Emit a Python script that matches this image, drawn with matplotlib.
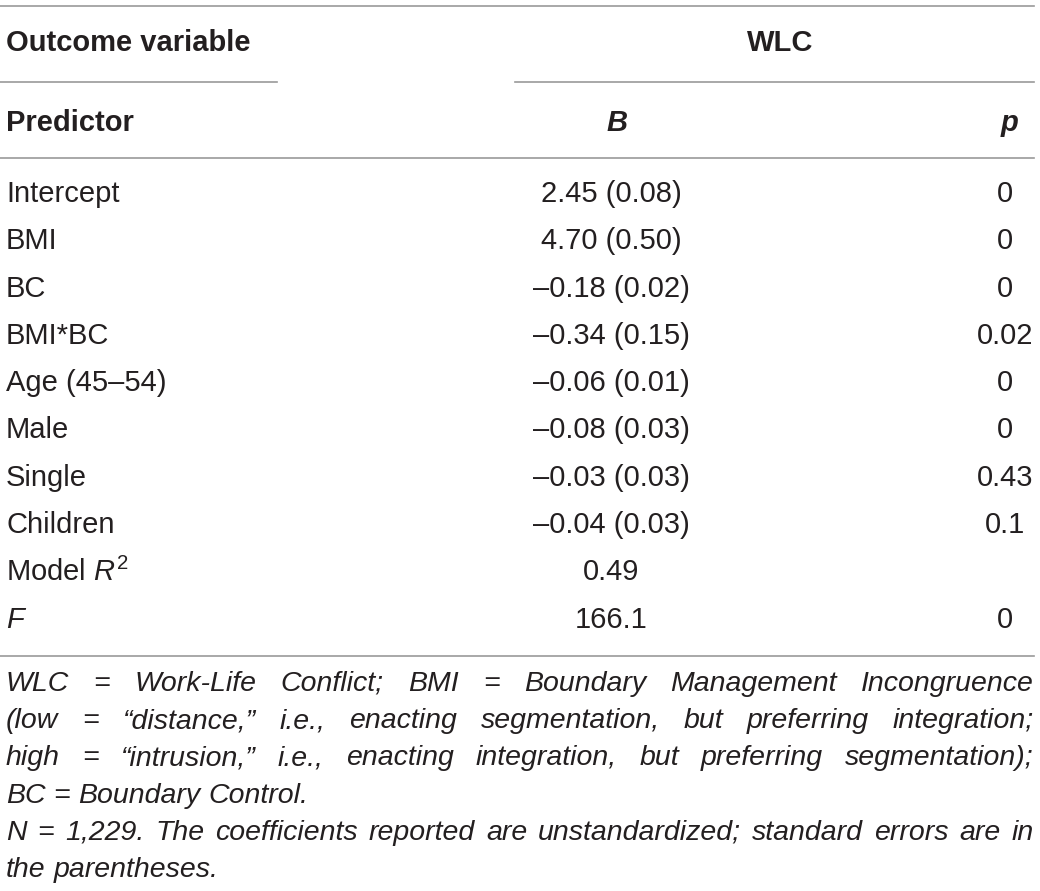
import matplotlib
matplotlib.use("Agg")
import matplotlib.pyplot as plt

plt.rcParams['font.family'] = ['Liberation Sans', 'DejaVu Sans']
plt.rcParams['mathtext.fontset'] = 'custom'
plt.rcParams['mathtext.rm'] = 'Liberation Sans'
plt.rcParams['mathtext.it'] = 'Liberation Sans:italic'
plt.rcParams['mathtext.bf'] = 'Liberation Sans:bold'

# ---- data ----
outcome_label = "Outcome variable"
outcome_name = "WLC"
col_predictor = "Predictor"
col_b = "B"
col_p = "p"
predictors = ["Intercept", "BMI", "BC", "BMI*BC", "Age (45\u201354)", "Male",
              "Single", "Children", "Model $\\mathit{R}^{2}$", "F"]
predictor_italic = [False, False, False, False, False, False, False, False, False, True]
b_values = ["2.45", "4.70", "\u20130.18", "\u20130.34", "\u20130.06", "\u20130.08",
            "\u20130.03", "\u20130.04", "0.49", "166.1"]
b_se = ["0.08", "0.50", "0.02", "0.15", "0.01", "0.03", "0.03", "0.03", "", ""]
p_values = ["0", "0", "0", "0.02", "0", "0", "0.43", "0.1", "", "0"]

# footnote lines as broken in the original (text, justified?)
footnote_lines = [
    ("WLC = Work-Life Conflict; BMI = Boundary Management Incongruence", True),
    ("(low = \u201cdistance,\u201d i.e., enacting segmentation, but preferring integration;", True),
    ("high = \u201cintrusion,\u201d i.e., enacting integration, but preferring segmentation);", True),
    ("BC = Boundary Control.", False),
    ("N = 1,229. The coefficients reported are unstandardized; standard errors are in", True),
    ("the parentheses.", False),
]

# ---- layout ----
W, H = 1040, 891
fig = plt.figure(figsize=(W / 100, H / 100), dpi=100)
ax = fig.add_axes([0, 0, 1, 1])
ax.set_xlim(0, W)
ax.set_ylim(H, 0)
ax.axis('off')

text_color = '#231f20'
line_color = '#9a9a9a'
fs = 21
fs_head = 21
fs_foot = 20.5
left = 6
right = 1034
b_x = 611
p_x = 1005

# rules
ax.plot([0, right], [6, 6], color=line_color, lw=1.2)
ax.plot([0, 277], [82, 82], color=line_color, lw=1.2)
ax.plot([515, right], [82, 82], color=line_color, lw=1.2)
ax.plot([0, right], [158, 158], color=line_color, lw=1.2)
ax.plot([0, right], [656, 656], color=line_color, lw=1.2)

# headers
ax.text(left, 43, outcome_label, fontsize=fs_head, fontweight='bold', color=text_color, va='center', ha='left')
ax.text(780, 43, outcome_name, fontsize=fs_head, fontweight='bold', color=text_color, va='center', ha='center')
ax.text(left, 123, col_predictor, fontsize=fs_head, fontweight='bold', color=text_color, va='center', ha='left')
ax.text(617, 123, col_b, fontsize=fs_head, fontweight='bold', style='italic', color=text_color, va='center', ha='center')
ax.text(1010, 123, col_p, fontsize=fs_head, fontweight='bold', style='italic', color=text_color, va='center', ha='center')

# body rows
y0 = 194
dy = 47.3
for i, (pred, it, b, se, p) in enumerate(zip(predictors, predictor_italic, b_values, b_se, p_values)):
    y = y0 + i * dy
    ax.text(left, y, pred, fontsize=fs, color=text_color, va='center', ha='left',
            style='italic' if it else 'normal')
    btxt = f"{b} ({se})" if se else b
    ax.text(b_x, y, btxt, fontsize=fs, color=text_color, va='center', ha='center')
    if p:
        ax.text(p_x, y, p, fontsize=fs, color=text_color, va='center', ha='center')

# footnote with justification
fig.canvas.draw()
renderer = fig.canvas.get_renderer()


def word_width(w):
    t = ax.text(0, 0, w, fontsize=fs_foot, style='italic', color=text_color)
    bb = t.get_window_extent(renderer=renderer)
    t.remove()
    return bb.width


space_w = word_width("a b") - word_width("ab")
avail = right - left

fy0 = 684
fdy = 37.2
for k, (line, justify) in enumerate(footnote_lines):
    y = fy0 + k * fdy
    words = line.split()
    widths = [word_width(w) for w in words]
    if justify and len(words) > 1:
        gap = max((avail - sum(widths)) / (len(words) - 1), space_w * 0.6)
    else:
        gap = space_w
    x = left
    for w, ww in zip(words, widths):
        ax.text(x, y, w, fontsize=fs_foot, style='italic', color=text_color, va='center', ha='left')
        x += ww + gap

fig.savefig("out.png", dpi=100)
